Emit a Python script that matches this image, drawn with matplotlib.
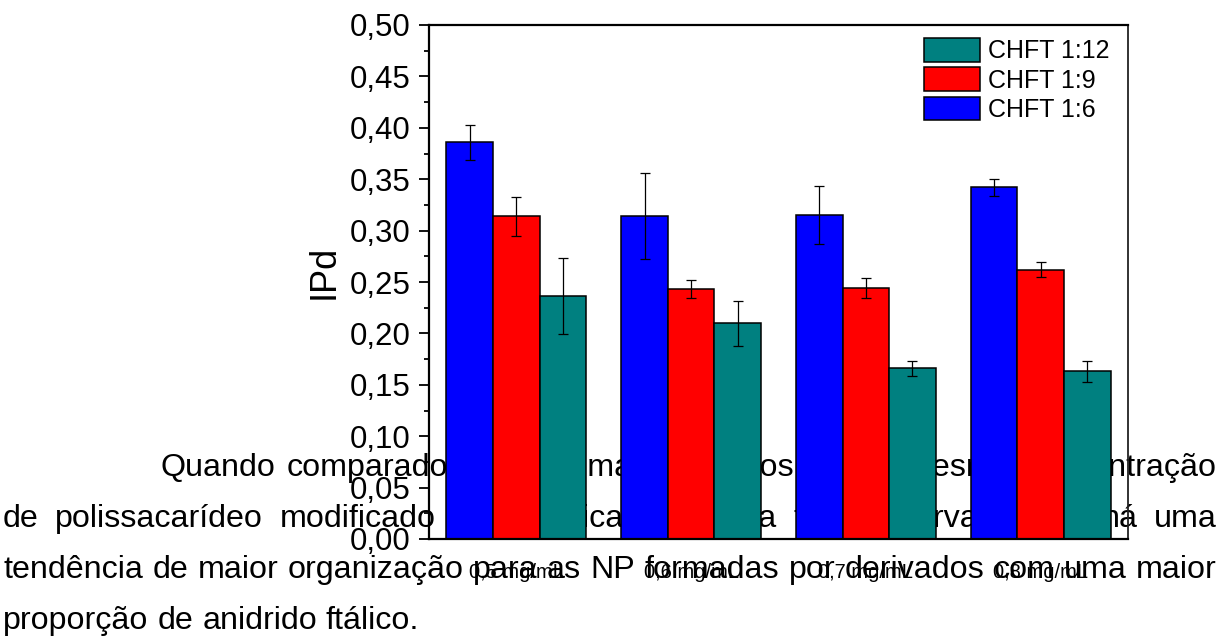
import matplotlib
matplotlib.use("Agg")
import matplotlib.pyplot as plt
import numpy as np
from matplotlib.font_manager import FontProperties
from matplotlib.patches import Patch
from matplotlib.ticker import AutoMinorLocator

plt.rcParams["font.family"] = ["Liberation Sans", "DejaVu Sans"]

W, H, DPI = 1232, 644, 100

# IPd per polymer concentration and CHFT ratio (mean and error)
concentrations = ["0,5 mg/mL", "0,6 mg/mL", "0,7 mg/mL", "0,8 mg/mL"]
ipd_1_6 = [0.386, 0.314, 0.315, 0.342]
err_1_6 = [0.017, 0.042, 0.028, 0.008]
ipd_1_9 = [0.314, 0.243, 0.244, 0.262]
err_1_9 = [0.019, 0.009, 0.010, 0.007]
ipd_1_12 = [0.236, 0.210, 0.166, 0.163]
err_1_12 = [0.037, 0.022, 0.007, 0.010]

series_labels = ["CHFT 1:6", "CHFT 1:9", "CHFT 1:12"]
series_colors = ["#0000ff", "#ff0000", "#008080"]

y_ticks = [0.00, 0.05, 0.10, 0.15, 0.20, 0.25, 0.30, 0.35, 0.40, 0.45, 0.50]

# paragraph of the page the chart sits on
paragraph = [
    "Quando comparados os sistemas formados com a mesma concentração",
    "de polissacarídeo modificado e a técnica escolhida tem observado que há uma",
    "tendência de maior organização para as NP formadas por derivados com uma maior",
    "proporção de anidrido ftálico.",
]
para_left = [161, 3, 3, 3]
para_baseline = [476, 527, 578, 629]
para_justify = [True, True, True, False]
PARA_RIGHT = 1217
PARA_SIZE = 23.2


def draw_paragraph(fig):
    renderer = fig.canvas.get_renderer()
    prop = FontProperties(family=["Liberation Sans", "DejaVu Sans"], size=PARA_SIZE)

    def width(s):
        return renderer.get_text_width_height_descent(s, prop, ismath=False)[0]

    space = width("a a") - width("aa")
    for line, x0, yb, justify in zip(paragraph, para_left, para_baseline, para_justify):
        words = line.split()
        widths = [width(w) for w in words]
        gap = (PARA_RIGHT - x0 - sum(widths)) / (len(words) - 1) if justify else space
        x = x0
        for w, ww in zip(words, widths):
            fig.text(x / W, 1 - yb / H, w, fontproperties=prop, ha="left",
                     va="baseline", color="black", zorder=-1)
            x += ww + gap


fig = plt.figure(figsize=(W / DPI, H / DPI), dpi=DPI)
fig.patch.set_facecolor("white")
draw_paragraph(fig)

ax = fig.add_axes([429 / W, 1 - 539 / H, 699 / W, 514 / H])
ax.patch.set_alpha(0)

x = np.arange(1, len(concentrations) + 1)
bw = 0.8 / 3
series = [(ipd_1_6, err_1_6), (ipd_1_9, err_1_9), (ipd_1_12, err_1_12)]
for i, ((vals, errs), color) in enumerate(zip(series, series_colors)):
    ax.bar(x + (i - 1) * bw, vals, bw, color=color, edgecolor="black",
           linewidth=1.1, zorder=2)
    ax.errorbar(x + (i - 1) * bw, vals, yerr=errs, fmt="none", ecolor="black",
                elinewidth=0.9, capsize=3.6, capthick=0.9, zorder=3)

ax.set_xlim(0.5, 4.5)
ax.set_ylim(0, 0.5)
ax.set_xticks(x)
ax.set_xticklabels(concentrations, fontsize=14.5)
ax.set_yticks(y_ticks)
ax.set_yticklabels([f"{v:.2f}".replace(".", ",") for v in y_ticks], fontsize=22.5)
ax.yaxis.set_minor_locator(AutoMinorLocator(2))
ax.tick_params(axis="y", which="major", direction="out", length=7.2, width=1.3, pad=6)
ax.tick_params(axis="y", which="minor", direction="out", length=3.6, width=1.3)
ax.tick_params(axis="x", length=0, pad=17.5)

ax.set_ylabel("IPd", fontsize=26)
ax.yaxis.set_label_coords(-0.150, 0.519)
ax.yaxis.label.set_verticalalignment("center")

for side in ("left", "bottom", "top"):
    ax.spines[side].set_linewidth(1.6)
    ax.spines[side].set_color("black")
ax.spines["right"].set_linewidth(1.3)
ax.spines["right"].set_color("#222222")

handles = [Patch(facecolor=c, edgecolor="black", linewidth=1.1)
           for c in series_colors]
ax.legend(handles[::-1], series_labels[::-1], loc="upper left",
          bbox_to_anchor=(924 / W, 1 - 38 / H), bbox_transform=fig.transFigure,
          frameon=False, fontsize=18, handlelength=2.25, handleheight=1.07,
          handletextpad=0.3, labelspacing=0.16, borderpad=0, borderaxespad=0)

fig.savefig("out.png", dpi=DPI)
